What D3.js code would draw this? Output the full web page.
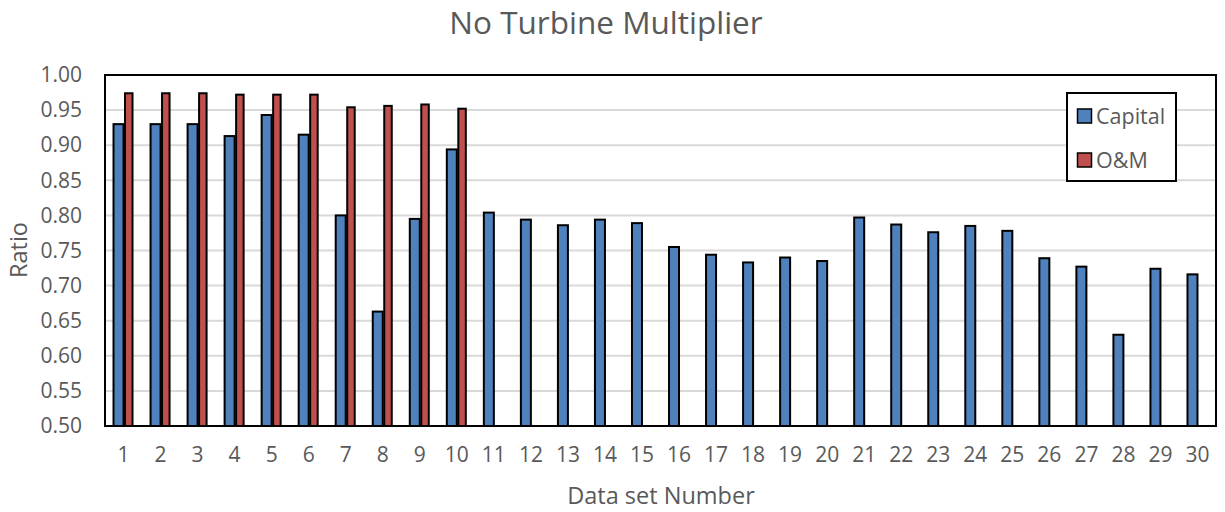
<!DOCTYPE html>
<html>
<head>
<meta charset="utf-8">
<script src="https://cdn.jsdelivr.net/npm/d3@7"></script>
<style>
  html, body { margin: 0; padding: 0; background: #fff; }
  svg { display: block; }
  text { font-family: "Open Sans", "Liberation Sans", sans-serif; fill: #595959; }
</style>
</head>
<body>
<svg id="chart" width="1225" height="512"></svg>
<script>
const categories = d3.range(1, 31).map(String);
const capital = [0.930, 0.930, 0.930, 0.913, 0.943, 0.915, 0.800, 0.663, 0.795, 0.894,
                 0.804, 0.794, 0.786, 0.794, 0.789, 0.755, 0.744, 0.733, 0.740, 0.735,
                 0.797, 0.787, 0.776, 0.785, 0.778, 0.739, 0.727, 0.630, 0.724, 0.716];
const om = [0.974, 0.974, 0.974, 0.972, 0.972, 0.972, 0.954, 0.956, 0.958, 0.952];
const yTicks = [0.50, 0.55, 0.60, 0.65, 0.70, 0.75, 0.80, 0.85, 0.90, 0.95, 1.00];
const seriesNames = ["Capital", "O&M"];
const seriesColors = ["#4F81BD", "#C0504D"];

const svg = d3.select("#chart");
const m = { left: 105, right: 1216, top: 75, bottom: 426 };

const x = d3.scaleBand().domain(categories).range([m.left, m.right]).padding(0);
const y = d3.scaleLinear().domain([0.5, 1.0]).range([m.bottom, m.top]);
const barW = 10;

// gridlines
svg.append("g")
  .selectAll("line").data(yTicks.slice(1, -1)).join("line")
  .attr("x1", m.left).attr("x2", m.right)
  .attr("y1", d => y(d)).attr("y2", d => y(d))
  .attr("stroke", "#d9d9d9").attr("stroke-width", 2);

// y axis labels
const yAxis = d3.axisLeft(y).tickValues(yTicks).tickFormat(d3.format(".2f")).tickSize(0).tickPadding(23);
const gy = svg.append("g").attr("transform", `translate(${m.left},0)`).call(yAxis);
gy.select(".domain").remove();
gy.selectAll("text").attr("font-size", 21).style("fill", "#595959").attr("font-family", "Open Sans");

// x axis labels
const xAxis = d3.axisBottom(x).tickSize(0).tickPadding(21);
const gx = svg.append("g").attr("transform", `translate(0,${m.bottom})`).call(xAxis);
gx.select(".domain").remove();
gx.selectAll("text").attr("font-size", 21).style("fill", "#595959").attr("font-family", "Open Sans");

// bars
const bars = svg.append("g");
bars.selectAll("rect.cap").data(capital).join("rect")
  .attr("class", "cap")
  .attr("x", (d, i) => x(categories[i]) + x.bandwidth() / 2 - barW)
  .attr("y", d => y(d))
  .attr("width", barW)
  .attr("height", d => y(0.5) - y(d))
  .attr("fill", seriesColors[0]).attr("stroke", "#000").attr("stroke-width", 2);
bars.selectAll("rect.om").data(om).join("rect")
  .attr("class", "om")
  .attr("x", (d, i) => x(categories[i]) + x.bandwidth() / 2 + 1.5)
  .attr("y", d => y(d))
  .attr("width", barW - 2.5)
  .attr("height", d => y(0.5) - y(d))
  .attr("fill", seriesColors[1]).attr("stroke", "#000").attr("stroke-width", 2);

// plot border
svg.append("rect")
  .attr("x", m.left).attr("y", m.top)
  .attr("width", m.right - m.left).attr("height", m.bottom - m.top)
  .attr("fill", "none").attr("stroke", "#000").attr("stroke-width", 2);

// title
svg.append("text").attr("x", 606).attr("y", 34).attr("text-anchor", "middle")
  .attr("font-size", 31.5).text("No Turbine Multiplier");

// axis titles
svg.append("text").attr("x", 661).attr("y", 504).attr("text-anchor", "middle")
  .attr("font-size", 23.5).text("Data set Number");
svg.append("text").attr("transform", "translate(27,250) rotate(-90)").attr("text-anchor", "middle")
  .attr("font-size", 23.5).text("Ratio");

// legend
const lg = svg.append("g");
lg.append("rect").attr("x", 1067).attr("y", 93).attr("width", 109).attr("height", 88)
  .attr("fill", "#fff").attr("stroke", "#000").attr("stroke-width", 2);
seriesNames.forEach((name, i) => {
  const yy = 116 + i * 44;
  lg.append("rect").attr("x", 1077.5).attr("y", yy - 7).attr("width", 14).attr("height", 14)
    .attr("fill", seriesColors[i]).attr("stroke", "#000").attr("stroke-width", 1.5);
  lg.append("text").attr("x", 1096).attr("y", yy + 7.5).attr("font-size", 21.5).text(name);
});
</script>
</body>
</html>
